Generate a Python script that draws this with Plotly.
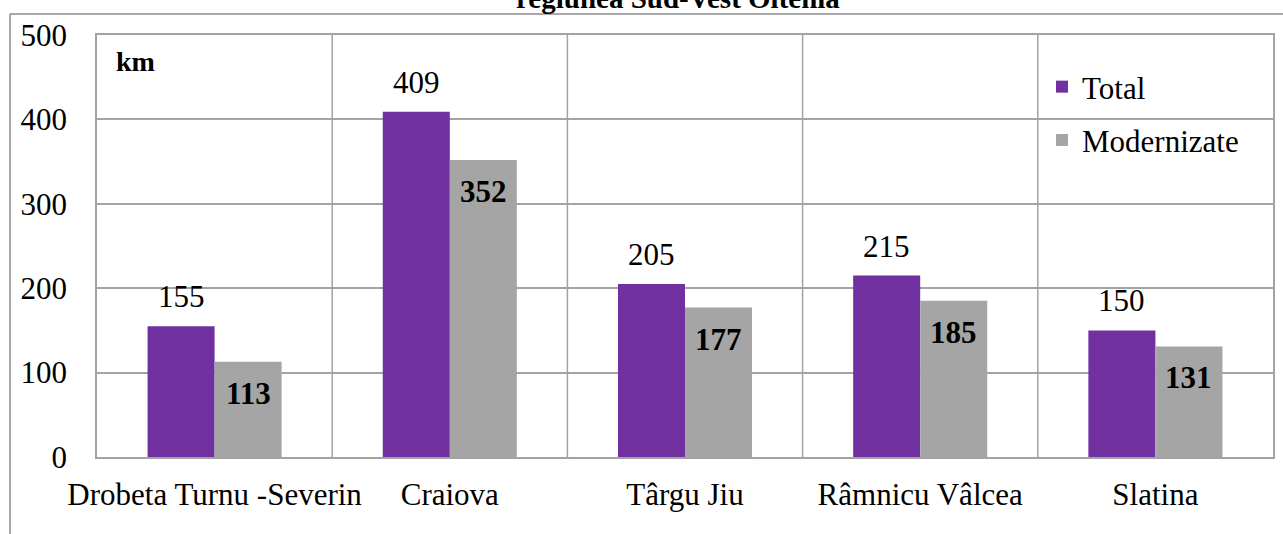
import plotly.graph_objects as go

categories = ["Drobeta Turnu -Severin", "Craiova", "Târgu Jiu", "Râmnicu Vâlcea", "Slatina"]
total = [155, 409, 205, 215, 150]
modernizate = [113, 352, 177, 185, 131]
y_ticks = [0, 100, 200, 300, 400, 500]
title_text = "regiunea Sud-Vest Oltenia"
unit_text = "km"

W, H = 1283, 534
ML, MR, MT, MB = 97, 10, 35, 77
PW = W - ML - MR
PH = H - MT - MB

FONT = "Liberation Serif"
GRID = "#A3A3A3"
PURPLE = "#7030A0"
GRAY = "#A5A5A5"
FS = 31

def px_x(px):
    return (px - ML) / PW

def px_y(py):
    return (H - MB - py) / PH

fig = go.Figure()
fig.add_trace(go.Bar(x=categories, y=total, name="Total", marker=dict(color=PURPLE, line=dict(width=0)),
                     legendgroup="a"))
fig.add_trace(go.Bar(x=categories, y=modernizate, name="Modernizate", marker=dict(color=GRAY, line=dict(width=0)),
                     legendgroup="b"))

bargap = 0.43
cat_px = PW / len(categories)
bar_px = cat_px * (1 - bargap) / 2

annotations = []
for c, v in zip(categories, total):
    annotations.append(dict(x=c, y=v, xref="x", yref="y", text=str(v), showarrow=False,
                            xshift=-bar_px / 2, yshift=10, yanchor="bottom",
                            font=dict(family=FONT, size=FS, color="black")))
for c, v in zip(categories, modernizate):
    annotations.append(dict(x=c, y=v, xref="x", yref="y", text="<b>" + str(v) + "</b>", showarrow=False,
                            xshift=bar_px / 2, yshift=-12, yanchor="top",
                            font=dict(family=FONT, size=FS, color="black")))
annotations.append(dict(x=px_x(114), y=px_y(44), xref="paper", yref="paper", text="<b>" + unit_text + "</b>",
                        showarrow=False, xanchor="left", yanchor="top",
                        font=dict(family=FONT, size=28, color="black")))
annotations.append(dict(x=px_x(678), y=px_y(16), xref="paper", yref="paper", text="<b>" + title_text + "</b>",
                        showarrow=False, xanchor="center", yanchor="bottom",
                        font=dict(family=FONT, size=29, color="black")))

shapes = []
for i in range(len(categories) - 1):
    shapes.append(dict(type="line", xref="x", yref="paper", x0=i + 0.5, x1=i + 0.5, y0=0, y1=1,
                       line=dict(color=GRID, width=1.5), layer="below"))
# outer chart frame
shapes.append(dict(type="line", xref="paper", yref="paper", x0=px_x(10), x1=px_x(1300), y0=px_y(14), y1=px_y(14),
                   line=dict(color="#8C8C8C", width=1.5)))
shapes.append(dict(type="line", xref="paper", yref="paper", x0=px_x(10), x1=px_x(10), y0=px_y(14), y1=px_y(560),
                   line=dict(color="#8C8C8C", width=1.5)))

fig.update_layout(
    width=W, height=H,
    margin=dict(l=ML, r=MR, t=MT, b=MB, autoexpand=False),
    paper_bgcolor="white", plot_bgcolor="white",
    barmode="group", bargap=bargap, bargroupgap=0,
    font=dict(family=FONT, size=FS, color="black"),
    showlegend=True,
    legend=dict(x=px_x(1042), y=px_y(60), xanchor="left", yanchor="top", bgcolor="rgba(0,0,0,0)",
                tracegroupgap=10, font=dict(family=FONT, size=FS, color="black"),
                itemwidth=30),
    annotations=annotations,
    shapes=shapes,
    xaxis=dict(showgrid=False, showline=True, linecolor=GRID, linewidth=1.5, mirror=True, automargin=False,
               ticks="", tickfont=dict(family=FONT, size=FS), ticklabelstandoff=9),
    yaxis=dict(range=[0, 500], tickvals=y_ticks, showgrid=True, gridcolor=GRID, gridwidth=1.5, automargin=False,
               showline=True, linecolor=GRID, linewidth=1.5, mirror=True, zeroline=False,
               ticks="", tickfont=dict(family=FONT, size=FS), ticklabelstandoff=22),
)

fig.write_html("out.html", config={"displayModeBar": False},
               post_script="document.body.style.margin='0px';document.body.style.padding='0px';")
